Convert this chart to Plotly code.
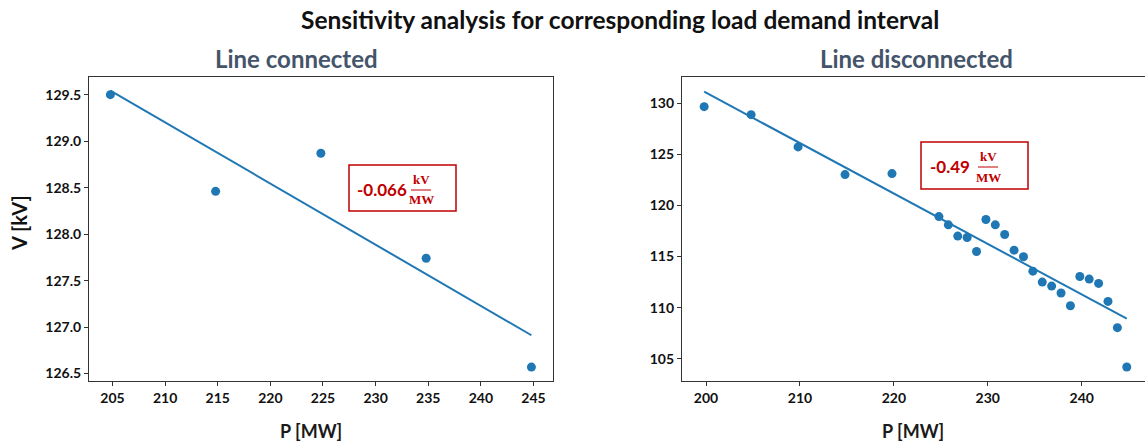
import numpy as np
import plotly.graph_objects as go

W, H = 1145, 443

# Load demand P [MW] and bus voltage V [kV] samples
p_connected = [204.8, 214.8, 224.8, 234.8, 244.8]
v_connected = [129.50, 128.46, 128.87, 127.74, 126.57]

p_disconnected = [199.8, 204.8, 209.8, 214.8, 219.8, 224.8, 225.8, 226.8, 227.8,
                  228.8, 229.8, 230.8, 231.8, 232.8, 233.8, 234.8, 235.8, 236.8,
                  237.8, 238.8, 239.8, 240.8, 241.8, 242.8, 243.8, 244.8]
v_disconnected = [129.64, 128.86, 125.71, 123.01, 123.11, 118.91, 118.10, 117.00,
                  116.87, 115.50, 118.62, 118.10, 117.16, 115.63, 114.98, 113.58,
                  112.51, 112.12, 111.44, 110.20, 113.06, 112.80, 112.38, 110.62,
                  108.06, 104.22]

BLUE = "#1f77b4"
RED = "#C00000"
SLATE = "#44546A"
FONT = "Lato"


def px(x):
    return x / W


def py(y):
    return 1 - y / H


def linear_fit(p, v):
    slope, intercept = np.polyfit(p, v, 1)
    xs = np.array([min(p), max(p)])
    return slope, xs, slope * xs + intercept


s_conn, fx_conn, fy_conn = linear_fit(p_connected, v_connected)
s_disc, fx_disc, fy_disc = linear_fit(p_disconnected, v_disconnected)

fig = go.Figure()
for p, v, fx, fy, xa, ya in [
    (p_connected, v_connected, fx_conn, fy_conn, "x", "y"),
    (p_disconnected, v_disconnected, fx_disc, fy_disc, "x2", "y2"),
]:
    fig.add_trace(go.Scatter(x=p, y=v, mode="markers", xaxis=xa, yaxis=ya,
                             marker=dict(color=BLUE, size=9), showlegend=False))
    fig.add_trace(go.Scatter(x=fx, y=fy, mode="lines", xaxis=xa, yaxis=ya,
                             line=dict(color=BLUE, width=2), showlegend=False))

tickfont = dict(family=FONT, size=14, color="#111111", weight="bold")
axis_common = dict(showgrid=False, zeroline=False, showline=True, linecolor="#333333",
                   linewidth=1.2, ticks="outside", ticklen=4, tickcolor="#333333",
                   tickfont=tickfont)

fig.update_layout(
    width=W, height=H,
    margin=dict(l=0, r=0, t=0, b=0),
    paper_bgcolor="white", plot_bgcolor="white",
    xaxis=dict(domain=[px(89), px(553.3)], anchor="y", range=[202.77, 246.88],
               tick0=205, dtick=5, mirror=True, **axis_common),
    yaxis=dict(domain=[py(381), py(77)], anchor="x", range=[126.42, 129.69],
               tick0=126.5, dtick=0.5, tickformat=".1f", mirror=True, **axis_common),
    xaxis2=dict(domain=[px(682), 1.0], anchor="y2", range=[197.44, 246.74],
                tick0=200, dtick=10, mirror=True, **axis_common),
    yaxis2=dict(domain=[py(381), py(77)], anchor="x2", range=[102.85, 132.54],
                tick0=105, dtick=5, mirror=False, **axis_common),
)

ann = []


def text(x, y, s, size, color="#111111", weight="bold", family=FONT, angle=0):
    ann.append(dict(x=px(x), y=py(y), xref="paper", yref="paper", text=s,
                    showarrow=False, xanchor="center", yanchor="middle", textangle=angle,
                    font=dict(family=family, size=size, color=color, weight=weight)))


text(620, 19, "Sensitivity analysis for corresponding load demand interval", 24.5)
text(296, 58, "Line connected", 24, color=SLATE)
text(916, 58, "Line disconnected", 24, color=SLATE)
text(19, 223, "V [kV]", 20, angle=-90)
text(311, 431, "P [MW]", 18, color="#1a1a1a")
text(913, 431, "P [MW]", 18, color="#1a1a1a")

shapes = []


def slope_box(x0, x1, y0, y1, label, num_cx, frac_cx, cy):
    shapes.append(dict(type="rect", xref="paper", yref="paper",
                       x0=px(x0), x1=px(x1), y0=py(y1), y1=py(y0),
                       line=dict(color=RED, width=1.5), fillcolor="rgba(0,0,0,0)"))
    text(num_cx, cy, label, 17, color=RED)
    text(frac_cx, cy - 10, "kV", 13, color=RED, family="Liberation Serif")
    text(frac_cx, cy + 11, "MW", 13, color=RED, family="Liberation Serif")
    shapes.append(dict(type="line", xref="paper", yref="paper",
                       x0=px(frac_cx - 10), x1=px(frac_cx + 10), y0=py(cy + 1), y1=py(cy + 1),
                       line=dict(color=RED, width=1)))


slope_box(349, 456, 165, 211, f"{s_conn:.3f}", 382, 421, 189)
slope_box(921, 1028, 142, 189, f"{s_disc:.2f}", 950, 988, 166)

fig.update_layout(annotations=ann, shapes=shapes)
fig.write_html("out.html")
